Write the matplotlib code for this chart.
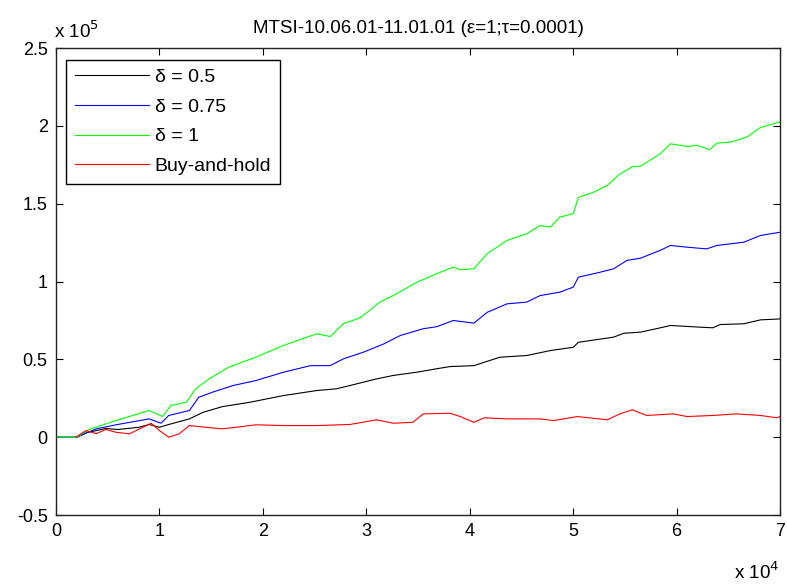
import matplotlib.pyplot as plt

plt.rcParams['font.family'] = ['Liberation Sans', 'DejaVu Sans']

# time steps in units of 1e4, wealth in units of 1e5
x_half = [0, 0.2, 0.3, 0.48, 0.6, 0.8, 0.9, 1.0, 1.09, 1.29, 1.42, 1.61, 1.876, 2.2, 2.52,
          2.71, 2.84, 3.1, 3.26, 3.49, 3.68, 3.81, 4.04, 4.29, 4.55, 4.78, 5.0, 5.05, 5.39,
          5.49, 5.65, 5.87, 5.94, 6.23, 6.35, 6.42, 6.65, 6.81, 7.0]
y_half = [0, 0, 0.03, 0.056, 0.05, 0.064, 0.082, 0.064, 0.082, 0.118, 0.16, 0.197, 0.225,
          0.268, 0.30, 0.311, 0.332, 0.375, 0.397, 0.418, 0.44, 0.454, 0.46, 0.514, 0.525,
          0.557, 0.578, 0.61, 0.643, 0.668, 0.675, 0.707, 0.718, 0.707, 0.703, 0.724, 0.729,
          0.754, 0.76]

x_075 = [0, 0.2, 0.3, 0.39, 0.58, 0.9, 1.015, 1.09, 1.29, 1.38, 1.515, 1.71, 1.93, 2.2, 2.46,
         2.65, 2.78, 2.97, 3.17, 3.33, 3.55, 3.68, 3.84, 4.04, 4.17, 4.36, 4.55, 4.68, 4.87,
         5.0, 5.05, 5.26, 5.39, 5.52, 5.65, 5.84, 5.94, 6.1, 6.29, 6.39, 6.65, 6.81, 7.0]
y_075 = [0, 0, 0.03, 0.054, 0.08, 0.118, 0.09, 0.14, 0.172, 0.257, 0.29, 0.332, 0.364, 0.418,
         0.46, 0.46, 0.504, 0.546, 0.60, 0.654, 0.697, 0.71, 0.75, 0.733, 0.803, 0.857, 0.868,
         0.91, 0.932, 0.964, 1.028, 1.06, 1.082, 1.136, 1.15, 1.20, 1.232, 1.221, 1.21, 1.232,
         1.253, 1.296, 1.317]

x_one = [0, 0.2, 0.32, 0.58, 0.9, 1.03, 1.11, 1.26, 1.35, 1.48, 1.67, 1.93, 2.2, 2.52, 2.65,
         2.78, 2.94, 3.07, 3.13, 3.26, 3.49, 3.68, 3.84, 3.91, 4.04, 4.17, 4.36, 4.55, 4.68,
         4.78, 4.87, 5.0, 5.05, 5.2, 5.33, 5.45, 5.58, 5.65, 5.84, 5.94, 6.1, 6.2, 6.32, 6.39,
         6.52, 6.68, 6.81, 7.0]
y_one = [0, 0, 0.05, 0.107, 0.172, 0.133, 0.204, 0.225, 0.31, 0.375, 0.45, 0.514, 0.59,
         0.665, 0.647, 0.73, 0.767, 0.835, 0.868, 0.91, 0.996, 1.05, 1.093, 1.076, 1.082,
         1.18, 1.264, 1.307, 1.36, 1.35, 1.414, 1.436, 1.54, 1.575, 1.618, 1.69, 1.74, 1.74,
         1.82, 1.885, 1.868, 1.875, 1.847, 1.89, 1.896, 1.928, 1.99, 2.025]

x_bh = [0.19, 0.29, 0.39, 0.48, 0.58, 0.71, 0.84, 0.92, 1.0, 1.09, 1.19, 1.29, 1.45, 1.61,
        1.8, 1.93, 2.2, 2.52, 2.84, 3.1, 3.26, 3.45, 3.55, 3.81, 3.91, 4.04, 4.14, 4.36, 4.68,
        4.81, 5.04, 5.33, 5.45, 5.57, 5.71, 5.97, 6.1, 6.35, 6.58, 6.81, 6.97, 7.0]
y_bh = [0, 0.043, 0.023, 0.05, 0.032, 0.022, 0.064, 0.09, 0.043, 0.0, 0.022, 0.075, 0.064,
        0.054, 0.069, 0.08, 0.075, 0.075, 0.082, 0.112, 0.09, 0.096, 0.15, 0.154, 0.133,
        0.096, 0.125, 0.118, 0.118, 0.107, 0.133, 0.112, 0.15, 0.176, 0.14, 0.15, 0.133,
        0.14, 0.15, 0.14, 0.125, 0.133]

labels = ['δ = 0.5', 'δ = 0.75', 'δ = 1', 'Buy-and-hold']

fig = plt.figure(figsize=(7.87, 5.86), dpi=100)
ax = fig.add_axes([0.0712, 0.121, 0.92, 0.797])

ax.plot(x_half, y_half, color='black', lw=0.8, label=labels[0])
ax.plot(x_075, y_075, color='#0000ff', lw=0.8, label=labels[1])
ax.plot(x_one, y_one, color='#00ff00', lw=0.8, label=labels[2])
ax.plot(x_bh, y_bh, color='#ff0000', lw=0.8, label=labels[3])

ax.set_xlim(0, 7)
ax.set_ylim(-0.5, 2.5)
ax.set_xticks(range(8))
ax.set_xticklabels([str(i) for i in range(8)])
ax.set_yticks([-0.5, 0, 0.5, 1, 1.5, 2, 2.5])
ax.set_yticklabels(['-0.5', '0', '0.5', '1', '1.5', '2', '2.5'])
ax.tick_params(direction='in', top=True, right=True, length=5, labelsize=13, pad=6)
for s in ax.spines.values():
    s.set_linewidth(1)
    s.set_color('#222222')

ax.set_title('MTSI-10.06.01-11.01.01 (ε=1;τ=0.0001)', fontsize=13.5, pad=11)

fig.text(0.069, 0.936, r'x 10$^5$', fontsize=13.5, ha='left', va='baseline')
fig.text(0.99, 0.012, r'x 10$^4$', fontsize=13.5, ha='right', va='baseline')

leg = ax.legend(loc='upper left', bbox_to_anchor=(0.014, 0.975), fontsize=14,
                handlelength=3.8, handletextpad=0.3, labelspacing=0.62,
                borderpad=0.45, borderaxespad=0, fancybox=False, framealpha=1)
leg.get_frame().set_edgecolor('black')
leg.get_frame().set_linewidth(1)

plt.savefig('out.png', dpi=100)
